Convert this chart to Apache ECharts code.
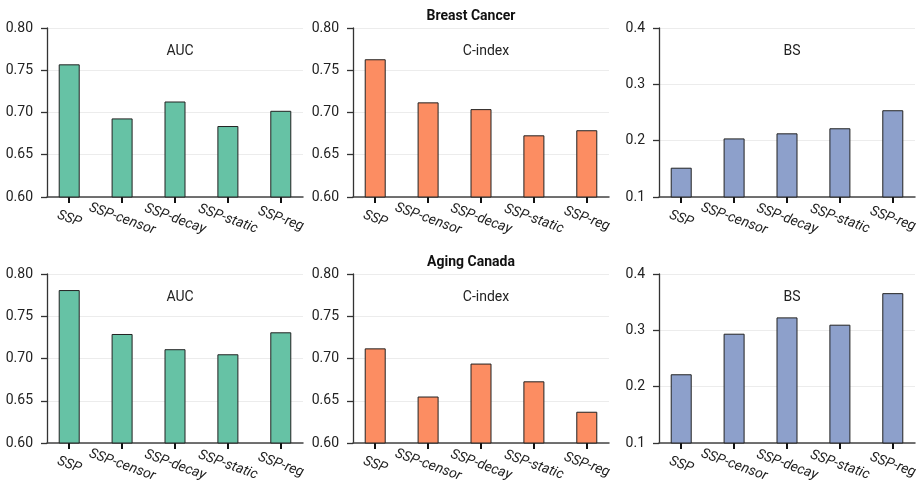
<!DOCTYPE html>
<html>
<head>
<meta charset="utf-8">
<script src="https://cdn.jsdelivr.net/npm/echarts@6/dist/echarts.min.js"></script>
<style>
  html, body { margin: 0; padding: 0; background: #fff; }
  #main { width: 922px; height: 494px; }
</style>
</head>
<body>
<div id="main"></div>
<script>
const categories = ['SSP', 'SSP-censor', 'SSP-decay', 'SSP-static', 'SSP-reg'];
const datasets = ['Breast Cancer', 'Aging Canada'];
const metrics = ['AUC', 'C-index', 'BS'];

// Breast Cancer
const bcAuc = [0.757, 0.693, 0.713, 0.684, 0.702];
const bcCindex = [0.763, 0.712, 0.704, 0.673, 0.679];
const bcBs = [0.152, 0.204, 0.213, 0.222, 0.254];
// Aging Canada
const acAuc = [0.781, 0.729, 0.711, 0.705, 0.731];
const acCindex = [0.712, 0.655, 0.694, 0.673, 0.637];
const acBs = [0.222, 0.294, 0.323, 0.310, 0.366];

const scoreTicks = [0.6, 0.8, 0.05];
const bsTicks = [0.1, 0.4, 0.1];

const colors = ['#66c2a5', '#fc8d62', '#8da0cb'];
const rows = [[bcAuc, bcCindex, bcBs], [acAuc, acCindex, acBs]];

const chart = echarts.init(document.getElementById('main'));

const gridLeft = [47, 353, 659];
const gridTop = [28, 274];
const gridW = 256, gridH = 169;
const font = 'Roboto';

const grid = [], xAxis = [], yAxis = [], series = [], title = [];

datasets.forEach((name, r) => {
  title.push({
    text: name,
    left: 466, top: gridTop[r] - 24,
    textAlign: 'center',
    textStyle: { fontFamily: font, fontSize: 14, fontWeight: 'bold', color: '#111' }
  });
  metrics.forEach((m, c) => {
    const i = r * 3 + c;
    const ticks = c === 2 ? bsTicks : scoreTicks;
    grid.push({ left: gridLeft[c], top: gridTop[r], width: gridW, height: gridH });
    title.push({
      text: m,
      left: gridLeft[c] + gridW / 2, top: gridTop[r] + 11,
      textAlign: 'center',
      textStyle: { fontFamily: font, fontSize: 14, fontWeight: 'normal', color: '#222' }
    });
    // bar positions 0..4 on a value axis, padded like matplotlib margins
    xAxis.push({
      type: 'value', gridIndex: i, min: -0.42, max: 4.42,
      splitLine: { show: false },
      axisLine: { onZero: false, lineStyle: { color: '#444', width: 1.5 } },
      axisTick: { show: true, customValues: [0, 1, 2, 3, 4], length: 6, lineStyle: { color: '#111', width: 2 } },
      axisLabel: {
        customValues: [0, 1, 2, 3, 4],
        formatter: v => categories[Math.round(v)] || '',
        rotate: -20, align: 'center', verticalAlign: 'middle', margin: 22,
        fontFamily: font, fontSize: 14, fontStyle: 'italic', color: '#222'
      }
    });
    yAxis.push({
      type: 'value', gridIndex: i, min: ticks[0], max: ticks[1], interval: ticks[2],
      axisLine: { show: true, onZero: false, lineStyle: { color: '#333', width: 1.3 } },
      axisTick: { show: true, length: 6, lineStyle: { color: '#333', width: 1.3 } },
      splitLine: { show: true, lineStyle: { color: '#ececec', width: 1 } },
      axisLabel: {
        margin: 14,
        formatter: v => c === 2 ? v.toFixed(1) : v.toFixed(2),
        fontFamily: font, fontSize: 14, color: '#222'
      }
    });
    series.push({
      type: 'bar', xAxisIndex: i, yAxisIndex: i,
      barWidth: 21,
      data: rows[r][c].map((v, k) => [k, v]),
      itemStyle: { color: colors[c], borderColor: '#222', borderWidth: 1 }
    });
  });
});

chart.setOption({
  animation: false,
  backgroundColor: '#fff',
  title, grid, xAxis, yAxis, series
});
</script>
</body>
</html>
